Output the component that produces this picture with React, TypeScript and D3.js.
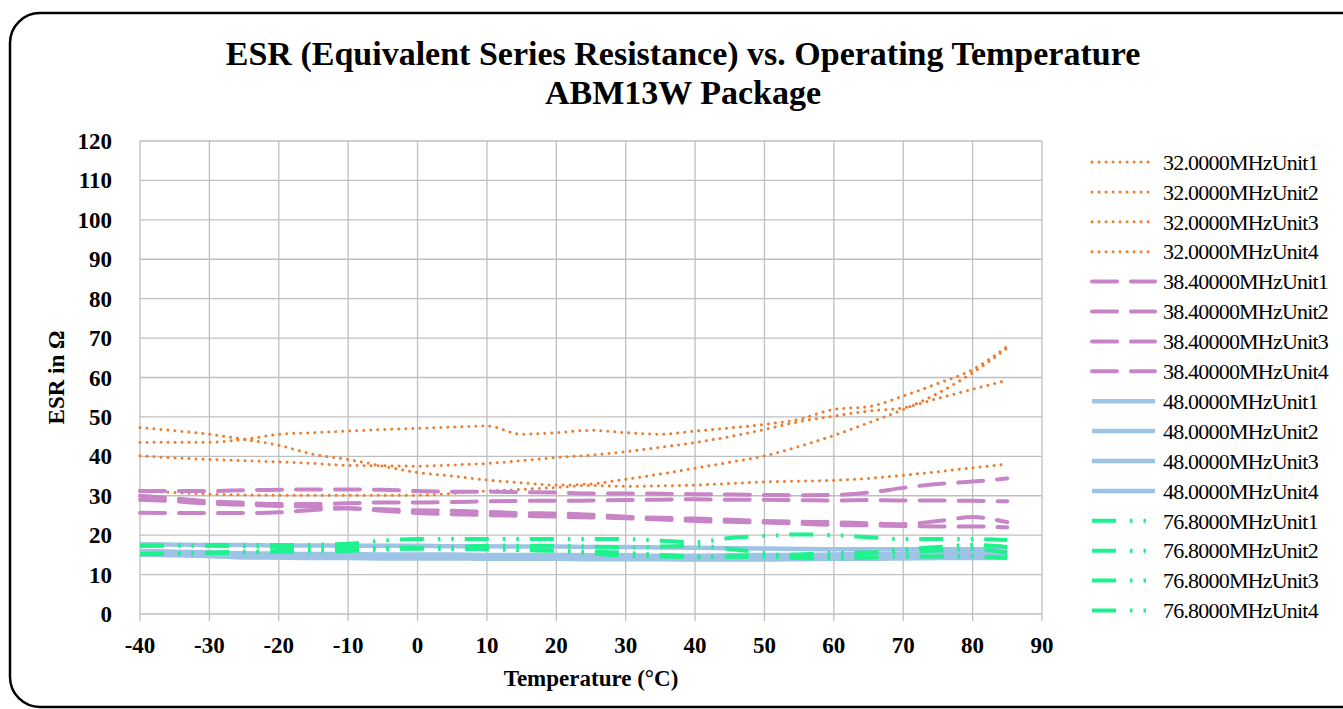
import React, { useRef, useEffect } from "react";
import * as d3 from "d3";

// 온도 (°C)
const temps = [-40, -35, -30, -25, -20, -15, -10, -5, 0, 5, 10, 15, 20, 25, 30, 35, 40, 45, 50, 55, 60, 65, 70, 75, 80, 85];

const xTicks = [-40, -30, -20, -10, 0, 10, 20, 30, 40, 50, 60, 70, 80, 90];
const yTicks = [0, 10, 20, 30, 40, 50, 60, 70, 80, 90, 100, 110, 120];

const freqLabels = ["32.0000MHz", "38.40000MHz", "48.0000MHz", "76.8000MHz"];
const unitLabels = ["Unit1", "Unit2", "Unit3", "Unit4"];

// 32.0000MHz
const esr32u1 = [47.3, 46.5, 45.6, 44.3, 42.8, 40.5, 39.2, 37.5, 35.9, 35.0, 34.0, 33.3, 32.7, 33.0, 34.2, 35.5, 37.0, 38.5, 40.1, 42.5, 45.3, 48.5, 51.9, 56.0, 61.2, 67.5];
const esr32u2 = [43.5, 43.6, 43.6, 44.3, 45.6, 46.0, 46.4, 46.8, 47.1, 47.4, 47.7, 45.6, 46.0, 46.6, 46.0, 45.6, 46.4, 47.2, 48.1, 49.4, 51.9, 52.6, 55.3, 58.5, 62.0, 67.9];
const esr32u3 = [40.1, 39.6, 39.2, 38.9, 38.6, 38.2, 37.7, 37.6, 37.5, 37.8, 38.2, 38.9, 39.7, 40.3, 41.2, 42.3, 43.5, 45.0, 46.8, 48.8, 50.2, 51.5, 52.3, 54.7, 57.0, 59.3];
const esr32u4 = [31.2, 30.8, 30.4, 30.2, 30.1, 30.1, 30.1, 30.1, 30.1, 30.6, 31.2, 31.6, 32.1, 32.6, 32.4, 32.5, 32.7, 33.1, 33.5, 33.7, 33.9, 34.4, 35.2, 36.1, 37.1, 38.0];

// 38.40000MHz
const esr38u1 = [31.2, 31.2, 31.2, 31.4, 31.5, 31.6, 31.6, 31.5, 31.2, 31.0, 31.0, 30.9, 30.8, 30.6, 30.6, 30.5, 30.4, 30.3, 30.2, 30.1, 30.2, 30.8, 32.0, 33.0, 33.6, 34.4];
const esr38u2 = [30.0, 29.3, 28.6, 28.2, 27.9, 27.9, 28.1, 28.3, 28.3, 28.4, 28.6, 28.7, 28.7, 28.8, 28.9, 29.0, 29.1, 29.0, 29.0, 28.9, 28.8, 28.9, 28.8, 28.8, 28.7, 28.6];
const esr38u3 = [29.0, 28.6, 28.0, 27.7, 27.4, 27.2, 26.8, 26.6, 26.3, 26.2, 25.9, 25.6, 25.5, 25.2, 24.7, 24.4, 24.2, 23.9, 23.6, 23.4, 23.3, 23.0, 22.8, 23.6, 24.6, 23.3];
const esr38u4 = [25.7, 25.6, 25.6, 25.6, 25.8, 26.4, 26.8, 26.2, 25.6, 25.3, 25.1, 24.9, 24.7, 24.5, 24.3, 24.0, 23.6, 23.4, 23.2, 22.9, 22.6, 22.5, 22.3, 22.2, 22.2, 22.0];

// 48.0000MHz
const esr48u1 = [17.7, 17.6, 17.5, 17.5, 17.4, 17.4, 17.3, 17.3, 17.3, 17.2, 17.2, 17.1, 17.1, 17.0, 17.0, 16.9, 16.8, 16.7, 16.6, 16.5, 16.4, 16.4, 16.4, 16.4, 16.4, 16.4];
const esr48u2 = [16.0, 15.8, 15.6, 15.4, 15.3, 15.2, 15.2, 15.1, 15.1, 15.1, 15.0, 15.0, 15.0, 14.9, 14.9, 14.8, 14.8, 14.9, 15.0, 15.0, 15.1, 15.2, 15.3, 15.4, 15.5, 15.6];
const esr48u3 = [15.3, 15.1, 14.8, 14.4, 14.6, 14.5, 14.4, 14.4, 14.3, 14.3, 14.3, 14.2, 14.2, 14.2, 14.1, 14.1, 14.1, 14.1, 14.2, 14.3, 14.4, 14.6, 14.7, 14.7, 14.8, 14.8];
const esr48u4 = [15.0, 14.9, 14.7, 14.4, 14.3, 14.2, 14.2, 14.1, 14.1, 14.1, 14.0, 14.0, 14.0, 13.9, 13.9, 13.9, 13.8, 13.8, 13.8, 13.9, 14.0, 14.0, 14.1, 14.2, 14.2, 14.3];

// 76.8000MHz
const esr76u1 = [17.3, 17.4, 17.5, 17.5, 17.5, 17.6, 17.8, 18.6, 19.0, 19.0, 19.0, 19.0, 19.0, 19.0, 19.0, 18.6, 18.2, 19.3, 19.8, 20.2, 20.0, 19.5, 19.0, 19.0, 19.0, 18.8];
const esr76u2 = [17.3, 17.3, 17.3, 17.2, 17.0, 16.9, 16.8, 16.8, 16.8, 17.0, 17.3, 17.3, 17.3, 17.1, 16.9, 17.1, 17.3, 16.5, 15.5, 14.5, 14.5, 15.4, 16.4, 17.0, 17.5, 17.0];
const esr76u3 = [15.2, 15.4, 15.6, 15.8, 16.0, 16.3, 16.5, 16.6, 16.6, 16.6, 16.5, 16.3, 16.1, 15.8, 15.5, 15.0, 14.6, 14.5, 14.5, 14.2, 14.0, 14.3, 14.6, 14.6, 14.6, 14.3];
const esr76u4 = [15.2, 15.3, 15.4, 15.6, 15.8, 15.9, 16.0, 16.3, 16.6, 16.5, 16.4, 16.2, 16.0, 15.4, 14.8, 14.6, 14.4, 14.6, 14.8, 15.1, 15.5, 15.6, 15.8, 16.1, 16.5, 15.5];

const groups = [
  [esr32u1, esr32u2, esr32u3, esr32u4],
  [esr38u1, esr38u2, esr38u3, esr38u4],
  [esr48u1, esr48u2, esr48u3, esr48u4],
  [esr76u1, esr76u2, esr76u3, esr76u4],
];

// 그룹별 선 스타일
const styles = [
  { color: "#ED7D31", width: 3, dash: "0.01 7", cap: "round" },
  { color: "#C785C8", width: 4, dash: "25 14", cap: "round" },
  { color: "#9DC3E6", width: 4.5, dash: "none", cap: "butt" },
  { color: "#1EF28E", width: 4, dash: "24 14 2.5 11 2.5 11", cap: "butt" },
];

const FONT = "'Liberation Serif', 'Times New Roman', serif";

const App = () => {
  const svgRef = useRef<SVGSVGElement | null>(null);

  useEffect(() => {
    if (!svgRef.current) return;
    const svg = d3.select(svgRef.current);
    svg.selectAll("*").remove();

    const x = d3.scaleLinear().domain([-40, 90]).range([140, 1042]);
    const y = d3.scaleLinear().domain([0, 120]).range([614, 141]);

    // 외곽 테두리
    svg
      .append("rect")
      .attr("x", 10)
      .attr("y", 13)
      .attr("width", 1400)
      .attr("height", 694)
      .attr("rx", 30)
      .attr("fill", "#fff")
      .attr("stroke", "#000")
      .attr("stroke-width", 2.5);

    // 제목
    const title = svg
      .append("text")
      .attr("text-anchor", "middle")
      .style("font-family", FONT)
      .style("font-weight", "bold")
      .style("font-size", "34px");
    title.append("tspan").attr("x", 683).attr("y", 65).text("ESR (Equivalent Series Resistance) vs. Operating Temperature");
    title.append("tspan").attr("x", 683).attr("y", 104).text("ABM13W Package");

    // 그리드
    const grid = svg.append("g").attr("stroke", "#BFBFBF").attr("stroke-width", 1.3);
    yTicks.forEach((t) => {
      grid.append("line").attr("x1", x(-40)).attr("x2", x(90)).attr("y1", y(t)).attr("y2", y(t));
    });
    xTicks.forEach((t) => {
      grid.append("line").attr("x1", x(t)).attr("x2", x(t)).attr("y1", y(120)).attr("y2", y(0) + 7);
    });

    // y축 라벨
    svg
      .append("g")
      .selectAll("text")
      .data(yTicks)
      .enter()
      .append("text")
      .attr("x", 112)
      .attr("y", (d) => y(d))
      .attr("dy", "0.35em")
      .attr("text-anchor", "end")
      .style("font-family", FONT)
      .style("font-weight", "bold")
      .style("font-size", "23px")
      .text((d) => d);

    // x축 라벨
    svg
      .append("g")
      .selectAll("text")
      .data(xTicks)
      .enter()
      .append("text")
      .attr("x", (d) => x(d))
      .attr("y", 653)
      .attr("text-anchor", "middle")
      .style("font-family", FONT)
      .style("font-weight", "bold")
      .style("font-size", "23px")
      .text((d) => d);

    svg
      .append("text")
      .attr("x", (x(-40) + x(90)) / 2)
      .attr("y", 686)
      .attr("text-anchor", "middle")
      .style("font-family", FONT)
      .style("font-weight", "bold")
      .style("font-size", "23px")
      .text("Temperature (°C)");

    svg
      .append("text")
      .attr("transform", `translate(64, ${(y(0) + y(120)) / 2}) rotate(-90)`)
      .attr("text-anchor", "middle")
      .style("font-family", FONT)
      .style("font-weight", "bold")
      .style("font-size", "23px")
      .text("ESR in Ω");

    // 선 그리기
    const line = d3
      .line<number>()
      .x((d, i) => x(temps[i]))
      .y((d) => y(d))
      .curve(d3.curveMonotoneX);

    groups.forEach((group, gi) => {
      const st = styles[gi];
      group.forEach((vals) => {
        svg
          .append("path")
          .datum(vals)
          .attr("d", line)
          .attr("fill", "none")
          .attr("stroke", st.color)
          .attr("stroke-width", st.width)
          .attr("stroke-dasharray", st.dash)
          .attr("stroke-linecap", st.cap);
      });
    });

    // 범례
    const legend = svg.append("g");
    let row = 0;
    groups.forEach((group, gi) => {
      const st = styles[gi];
      group.forEach((_, ui) => {
        const ly = 162 + row * 29.9;
        legend
          .append("line")
          .attr("x1", 1092)
          .attr("x2", 1155)
          .attr("y1", ly)
          .attr("y2", ly)
          .attr("stroke", st.color)
          .attr("stroke-width", st.width)
          .attr("stroke-dasharray", st.dash)
          .attr("stroke-linecap", st.cap);
        legend
          .append("text")
          .attr("x", 1163)
          .attr("y", ly)
          .attr("dy", "0.35em")
          .style("font-family", FONT)
          .style("font-size", "22px")
          .style("letter-spacing", "-0.8px")
          .text(`${freqLabels[gi]}${unitLabels[ui]}`);
        row++;
      });
    });
  }, []);

  return (
    <svg
      ref={svgRef}
      width={1343}
      height={709}
      style={{ position: "absolute", left: 0, top: 0, background: "#fff" }}
    ></svg>
  );
};

export default App;
